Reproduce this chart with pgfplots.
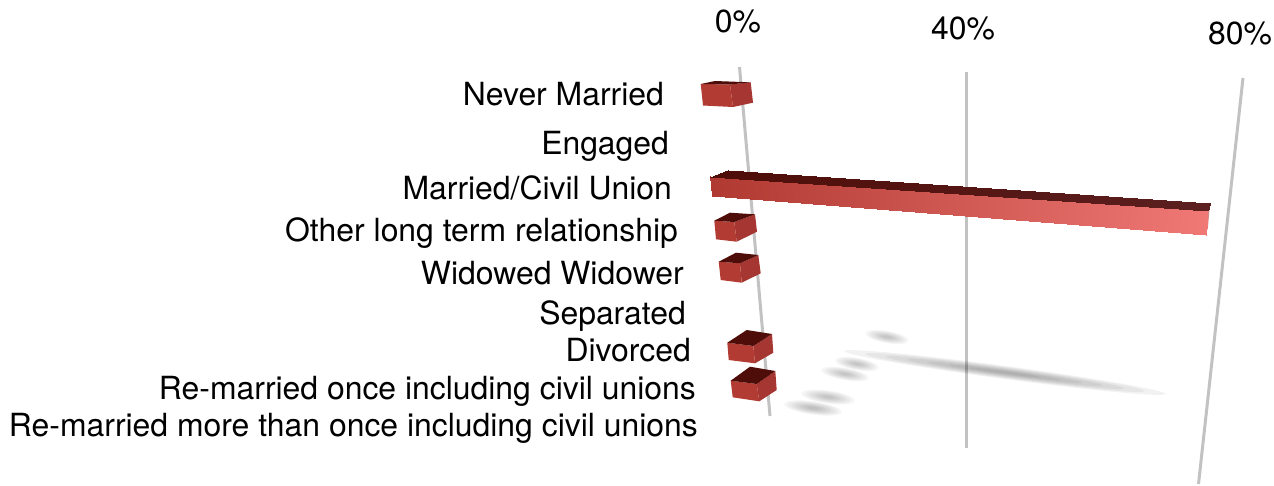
\documentclass[border=0pt]{standalone}
\usepackage{fontspec}
\setmainfont{TeX Gyre Heros}
\usepackage{pgfplots}
\pgfplotsset{compat=1.18}
\definecolor{gridc}{HTML}{C2C2C2}
\definecolor{front}{HTML}{B23C33}
\definecolor{side}{HTML}{A63631}
\definecolor{topc}{HTML}{4E0D08}
\newcommand\cube[7]{%
 % A B C D E F G : front-left-top, front-right-top, front-right-bottom, front-left-bottom, back-right-top, back-right-bottom, back-left-top
 \addplot[fill=side,draw=none] coordinates {#2 #5 #6 #3} -- cycle;
 \addplot[fill=front,draw=none] coordinates {#1 #2 #3 #4} -- cycle;
 \addplot[fill=topc,draw=none] coordinates {#1 #2 #5 #7} -- cycle;
}
% soft shadow: point, half length, half thickness, angle, opacity of a layer
\newcommand\shlayer[6]{%
 \addplot[only marks,mark=*,mark size=1pt,mark options={line width=0pt,draw opacity=0,fill=black,fill opacity=#5,rotate=#4,xscale=#2*#6,yscale=#3*#6}] coordinates {#1};
}
\newcommand\shadow[5]{%
 \shlayer{#1}{#2}{#3}{#4}{#5}{1}
 \shlayer{#1}{#2}{#3}{#4}{#5}{.87}
 \shlayer{#1}{#2}{#3}{#4}{#5}{.74}
 \shlayer{#1}{#2}{#3}{#4}{#5}{.61}
 \shlayer{#1}{#2}{#3}{#4}{#5}{.48}
 \shlayer{#1}{#2}{#3}{#4}{#5}{.35}
 \shlayer{#1}{#2}{#3}{#4}{#5}{.22}
}
\begin{document}
\begin{tikzpicture}
\begin{axis}[
  scale only axis, width=1274pt, height=484pt,
  xmin=0, xmax=1274, ymin=0, ymax=484, y dir=reverse,
  hide axis, clip=false,
  colormap={barfront}{rgb255(0cm)=(176,58,50); rgb255(1cm)=(240,120,117)},
  nodes={font=\fontsize{31.9}{38}\selectfont, inner sep=0pt},
]
\path (axis cs:0,0) rectangle (axis cs:1274,484);
% grid lines (0%, 40%, 80%)
\addplot[gridc,line width=3pt] coordinates {(739.5,67) (770,416)};
\addplot[gridc,line width=3pt] coordinates {(966,72) (966,448)};
\addplot[gridc,line width=3pt] coordinates {(1243,78) (1198.5,484)};
% shadows
\shadow{(887,337)}{22}{6}{-10}{.035}
\shadow{(1005,372.5)}{162}{6.5}{-7.6}{.05}
\shadow{(857,364)}{22}{6}{-10}{.035}
\shadow{(845,374)}{24}{6}{-10}{.035}
\shadow{(828,397)}{27}{6.5}{-8}{.035}
\shadow{(813,408)}{29}{6.5}{-8}{.04}
% bars
\cube{(700.7,84)}{(730,84.5)}{(733,107)}{(703,105.5)}{(750.7,82.3)}{(753,102.7)}{(715,81)}
\cube{(714.3,220.7)}{(734.3,222)}{(736.7,241.7)}{(716,239.3)}{(755,214.3)}{(757,231.7)}{(730,212.7)}
\cube{(718.7,261.7)}{(740,263.3)}{(741.7,282.7)}{(720.7,280)}{(758.3,255)}{(760.7,273.3)}{(736,252.7)}
\cube{(727.3,342.7)}{(753.3,346)}{(755,363.3)}{(728.7,360)}{(772,334)}{(773.3,352.7)}{(746.7,330)}
\cube{(730.7,380.7)}{(756.7,384)}{(759.3,401.3)}{(732.7,397.3)}{(775.3,371)}{(776.7,390)}{(750,366.7)}
% Married / civil union
\addplot[fill=front!60!white,draw=none] coordinates {(1207.7,210.7) (1210,202.7) (1208,227) (1205.7,235.3)} -- cycle;
\addplot[patch,patch type=rectangle,shader=interp,point meta=explicit] table[meta=c] {
x y c
710 175.5 0
1207.7 209.5 1
1205.7 235.3 1
712.3 196 0
};
\addplot[patch,patch type=rectangle,shader=interp,point meta=explicit,
  colormap={bartop}{rgb255(0cm)=(78,13,8); rgb255(1cm)=(92,32,32)}] table[meta=c] {
x y c
710 176.7 0
728 170 0
1210 202.7 1
1207.7 210.7 1
};
% category labels
\node[anchor=base east] at (axis cs:664,105) {Never Married};
\node[anchor=base east] at (axis cs:669,154) {Engaged};
\node[anchor=base east] at (axis cs:672,199) {Married/Civil Union};
\node[anchor=base east] at (axis cs:678,241) {Other long term relationship};
\node[anchor=base east] at (axis cs:684,284) {Widowed Widower};
\node[anchor=base east] at (axis cs:686,324) {Separated};
\node[anchor=base east] at (axis cs:691,361) {Divorced};
\node[anchor=base east] at (axis cs:696,399) {Re-married once including civil unions};
\node[anchor=base east] at (axis cs:698,436) {Re-married more than once including civil unions};
% value labels
\node[anchor=base] at (axis cs:738,32) {0\%};
\node[anchor=base] at (axis cs:963,39) {40\%};
\node[anchor=base] at (axis cs:1240,44) {80\%};
\end{axis}
\end{tikzpicture}
\end{document}
